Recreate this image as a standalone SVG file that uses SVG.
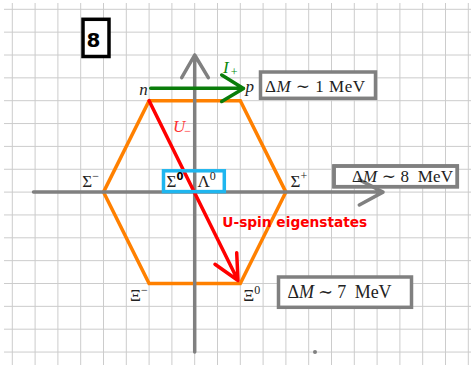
<svg xmlns="http://www.w3.org/2000/svg" width="473" height="365" viewBox="0 0 473 365">
<style>
.grid{stroke:#cccccc;stroke-width:1;fill:none}
.box{fill:#fff;stroke:#808080;stroke-width:3.5}
.axis{stroke:#808080;stroke-width:3.5;fill:none;stroke-linecap:round;stroke-linejoin:round}
.serif{font-family:"Liberation Serif","DejaVu Serif",serif;fill:#222}
.it{font-style:italic}
.sup{font-size:12px}
</style>
<rect width="473" height="365" fill="#fff"/>
<g id="grid">
<path class="grid" d="M12.3 3V365M35.1 3V365M57.9 3V365M80.7 3V365M103.5 3V365M126.3 3V365M149.1 3V365M171.9 3V365M194.7 3V365M217.5 3V365M240.3 3V365M263.1 3V365M285.9 3V365M308.7 3V365M331.5 3V365M354.3 3V365M377.1 3V365M399.9 3V365M422.7 3V365M445.5 3V365M468.3 3V365"/>
<path class="grid" d="M4 9.3H471M4 32.15H471M4 55H471M4 77.85H471M4 100.7H471M4 123.55H471M4 146.4H471M4 169.25H471M4 192.1H471M4 214.95H471M4 237.8H471M4 260.65H471M4 283.5H471M4 306.35H471M4 329.2H471M4 352.05H471"/>
</g>
<g id="boxfills">
<rect x="334" y="166" width="123.3" height="20.7" class="box"/>
<rect x="163.5" y="170.8" width="60.8" height="20.8" fill="#fff"/>
</g>
<g id="connectors">
<polygon points="149.1,100.7 240.3,100.7 285.9,192.1 240.3,283.5 149.1,283.5 103.5,192.1" fill="none" stroke="#ff8000" stroke-width="3.5" stroke-linejoin="miter"/>
<path class="axis" d="M194.7 352V55M181.7 77.7L194.7 55L208.3 77.7"/>
<path class="axis" d="M33.5 192.1H383M359.3 179.8L383 192.1L359.3 205"/>
<path d="M149.1 100.7L238 280.5M215 264.3L238 280.5L236.7 252.7" fill="none" stroke="#ff0000" stroke-width="3.5" stroke-linecap="round" stroke-linejoin="round"/>
<path d="M150.7 88.3H243.5M221.7 75L243.5 88.5L221.7 101.5" fill="none" stroke="#0a7d0a" stroke-width="3.5" stroke-linecap="round" stroke-linejoin="round"/>
<circle cx="315" cy="352" r="2" fill="#808080"/>
</g>
<g id="label8">
<rect x="83" y="19.3" width="26" height="37.2" fill="#fff" stroke="#000" stroke-width="3.5"/>
<text x="93.5" y="47" text-anchor="middle" font-family="'DejaVu Sans',sans-serif" font-weight="bold" font-size="20">8</text>
</g>
<g id="node-n"><text x="139.3" y="95" class="serif it" font-size="17">n</text></g>
<g id="node-p"><text x="245.5" y="92" class="serif it" font-size="17">p</text></g>
<g id="label-Iplus"><text x="223" y="73.3" font-family="'Liberation Serif',serif" font-style="italic" font-size="17" fill="#0a8a0a">I<tspan dx="2" dy="3" font-style="normal" font-size="12">+</tspan></text></g>
<g id="label-Uminus"><text x="173" y="131.7" font-family="'Liberation Serif',serif" font-style="italic" font-size="17" fill="#ff3333">U<tspan dx="-1" dy="3" font-style="normal" font-size="12">−</tspan></text></g>
<g id="node-sigma-minus"><text x="82.3" y="187" class="serif" font-size="17">Σ<tspan class="sup" dy="-7">−</tspan></text></g>
<g id="node-sigma-plus"><text x="290.5" y="187" class="serif" font-size="17">Σ<tspan class="sup" dy="-7">+</tspan></text></g>
<g id="node-xi-minus"><text x="130" y="301" class="serif" font-size="17">Ξ<tspan class="sup" dy="-7">−</tspan></text></g>
<g id="node-xi-zero"><text x="243.3" y="301" class="serif" font-size="17">Ξ<tspan class="sup" dy="-7">0</tspan></text></g>
<g id="node-sigma0-lambda0">
<rect x="163.5" y="170.8" width="60.8" height="20.8" fill="none" stroke="#1fb6ef" stroke-width="3.5"/>
<text x="166.5" y="187" class="serif" font-size="17">Σ<tspan dy="-7" font-size="10" font-weight="bold" font-family="'DejaVu Sans',sans-serif" fill="#000">0</tspan></text>
<text x="197.5" y="187" class="serif" font-size="17">Λ<tspan class="sup" dy="-7">0</tspan></text>
</g>
<g id="note-1MeV">
<rect x="260.5" y="72" width="115" height="26.3" class="box"/>
<text x="265" y="91.7" class="serif" font-size="17" textLength="100" lengthAdjust="spacing">Δ<tspan class="it">M</tspan> ∼ 1 MeV</text>
</g>
<g id="note-8MeV">
<rect x="334" y="166" width="123.3" height="20.7" fill="none" stroke="#808080" stroke-width="3.5"/>
<text x="352" y="181.7" class="serif" font-size="17" textLength="101" lengthAdjust="spacing">Δ<tspan class="it">M</tspan> ∼ 8&#160; MeV</text>
</g>
<g id="note-7MeV">
<rect x="278.5" y="277" width="133" height="30.3" class="box"/>
<text x="287.5" y="298.3" class="serif" font-size="18" textLength="104" lengthAdjust="spacing">Δ<tspan class="it">M</tspan> ∼ 7&#160; MeV</text>
</g>
<g id="label-uspin"><text x="222.3" y="226.7" font-family="'DejaVu Sans',sans-serif" font-weight="bold" font-size="14" fill="#ff0000" textLength="145" lengthAdjust="spacingAndGlyphs">U-spin eigenstates</text></g>
</svg>
